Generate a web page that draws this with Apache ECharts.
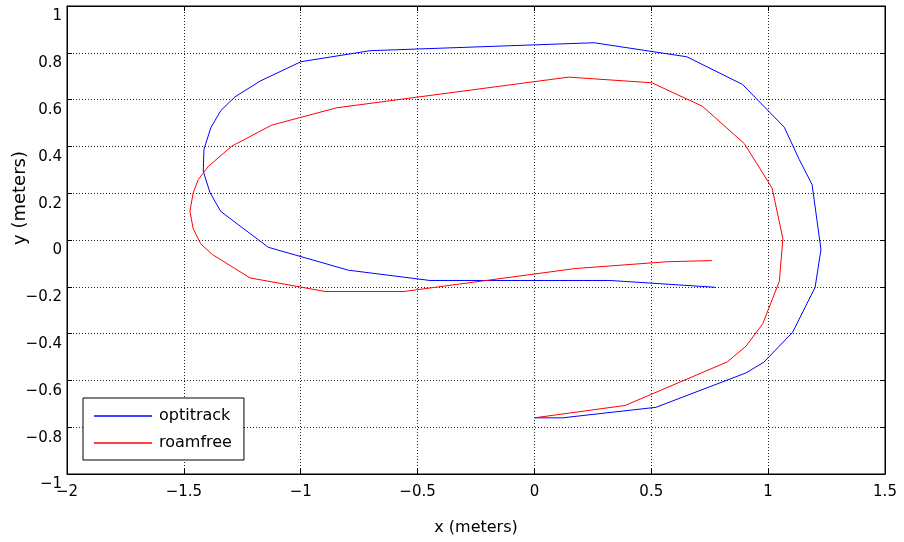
<!DOCTYPE html>
<html>
<head>
<meta charset="utf-8">
<script src="https://cdn.jsdelivr.net/npm/echarts@6/dist/echarts.min.js"></script>
<style>
  html, body { margin: 0; padding: 0; background: #fff; }
  #chart { width: 904px; height: 542px; }
</style>
</head>
<body>
<div id="chart"></div>
<script>
// track points, [x, y] in meters
const optitrack = [
  [0.00, -0.76], [0.12, -0.76], [0.52, -0.715], [0.905, -0.568], [0.982, -0.522],
  [1.105, -0.394], [1.201, -0.202], [1.226, -0.041], [1.188, 0.237], [1.133, 0.344],
  [1.069, 0.482], [0.89, 0.665], [0.652, 0.783], [0.255, 0.843], [-0.703, 0.809],
  [-0.999, 0.762], [-1.174, 0.679], [-1.281, 0.612], [-1.342, 0.553], [-1.385, 0.479],
  [-1.414, 0.387], [-1.417, 0.294], [-1.388, 0.202], [-1.342, 0.122], [-1.139, -0.031],
  [-0.796, -0.129], [-0.447, -0.173], [0.323, -0.173], [0.773, -0.202],
];

const roamfree = [
  [0.00, -0.76], [0.388, -0.707], [0.825, -0.521], [0.905, -0.454], [0.977, -0.358],
  [1.048, -0.176], [1.063, 0.006], [1.017, 0.222], [0.898, 0.412], [0.718, 0.572],
  [0.502, 0.672], [0.146, 0.696], [-0.846, 0.565], [-1.124, 0.491], [-1.295, 0.401],
  [-1.395, 0.315], [-1.438, 0.259], [-1.46, 0.202], [-1.474, 0.123], [-1.46, 0.048],
  [-1.428, -0.016], [-1.378, -0.062], [-1.217, -0.162], [-0.896, -0.22], [-0.558, -0.22],
  [0.174, -0.122], [0.566, -0.093], [0.759, -0.088],
];

const SERIES_NAMES = ["optitrack", "roamfree"];
const COLORS = ["#0000ff", "#ff0000"];
const X_RANGE = [-2, 1.5, 0.5];
const Y_RANGE = [-1, 1, 0.2];
const FONT = "DejaVu Sans";

function tickText(v) {
  const s = String(Math.round(v * 10) / 10);
  return s.replace("-", "\u2212");
}

const chart = echarts.init(document.getElementById("chart"));

const gridLine = { show: true, lineStyle: { color: "#222", width: 1, type: [1, 2] } };
const axisLine = { show: true, onZero: false, lineStyle: { color: "#000", width: 1 } };
const tick = { show: true, inside: true, length: 5, lineStyle: { color: "#000" } };

chart.setOption({
  animation: false,
  grid: {
    left: 67, right: 19, top: 6, bottom: 68,
    containLabel: false, outerBoundsMode: "none",
    show: true, borderColor: "#000", borderWidth: 1,
  },
  xAxis: [
    {
      type: "value", min: X_RANGE[0], max: X_RANGE[1], interval: X_RANGE[2],
      name: "x (meters)", nameLocation: "middle", nameGap: 46, nameMoveOverlap: false,
      nameTextStyle: { fontFamily: FONT, fontSize: 16, color: "#000" },
      axisLine, axisTick: tick, splitLine: gridLine,
      axisLabel: { formatter: tickText, fontFamily: FONT, fontSize: 15, color: "#000", margin: 11 },
    },
    {
      type: "value", position: "top", min: X_RANGE[0], max: X_RANGE[1], interval: X_RANGE[2],
      axisLine, axisTick: tick, splitLine: { show: false }, axisLabel: { show: false },
    },
  ],
  yAxis: [
    {
      type: "value", min: Y_RANGE[0], max: Y_RANGE[1], interval: Y_RANGE[2],
      name: "y (meters)", nameLocation: "middle", nameGap: 38, nameMoveOverlap: false,
      nameTextStyle: { fontFamily: FONT, fontSize: 18, color: "#000", padding: [0, 0, 0, 84] },
      axisLine, axisTick: tick, splitLine: gridLine,
      axisLabel: {
        formatter: tickText, fontFamily: FONT, fontSize: 15, color: "#000",
        margin: 5, verticalAlign: "top", padding: [3, 0, 0, 0],
      },
    },
    {
      type: "value", position: "right", min: Y_RANGE[0], max: Y_RANGE[1], interval: Y_RANGE[2],
      axisLine, axisTick: tick, splitLine: { show: false }, axisLabel: { show: false },
    },
  ],
  legend: {
    orient: "vertical", left: 83, top: 398,
    data: SERIES_NAMES,
    icon: "rect", itemWidth: 58, itemHeight: 1.5, itemGap: 11,
    padding: [10, 12, 9, 11],
    backgroundColor: "#fff", borderColor: "#000", borderWidth: 1,
    textStyle: { fontFamily: FONT, fontSize: 16, color: "#000", padding: [0, 0, 0, 2] },
  },
  series: [optitrack, roamfree].map((data, i) => ({
    name: SERIES_NAMES[i],
    type: "line",
    data,
    showSymbol: false,
    symbol: "none",
    lineStyle: { color: COLORS[i], width: 1 },
    itemStyle: { color: COLORS[i] },
    z: 3,
  })),
});
</script>
</body>
</html>
